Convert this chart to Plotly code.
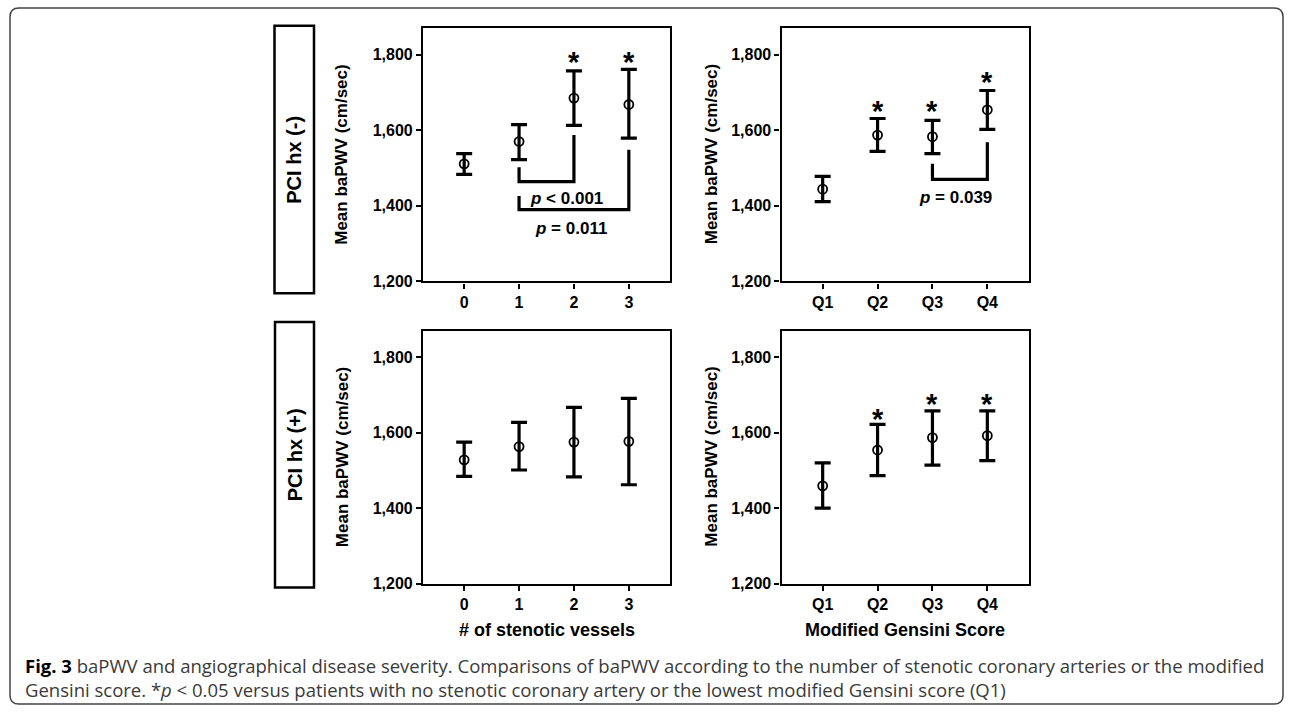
import plotly.graph_objects as go

W, H = 1292, 717

# ---------------- data ----------------
vessel_cats = ["0", "1", "2", "3"]
gensini_cats = ["Q1", "Q2", "Q3", "Q4"]
tick_vals_y = [1200, 1400, 1600, 1800]

# PCI hx (-), # of stenotic vessels
tl_mean = [1511, 1570, 1685, 1668]
tl_upper = [1538, 1615, 1757, 1761]
tl_lower = [1483, 1522, 1613, 1579]
tl_star_idx = [2, 3]
tl_star_y = [1800, 1800]

# PCI hx (-), modified Gensini score
tr_mean = [1444, 1587, 1583, 1654]
tr_upper = [1478, 1631, 1626, 1705]
tr_lower = [1411, 1544, 1538, 1602]
tr_star_idx = [1, 2, 3]
tr_star_y = [1670, 1670, 1745]

# PCI hx (+), # of stenotic vessels
bl_mean = [1528, 1563, 1575, 1577]
bl_upper = [1575, 1627, 1667, 1691]
bl_lower = [1484, 1501, 1483, 1462]

# PCI hx (+), modified Gensini score
br_mean = [1459, 1554, 1587, 1592]
br_upper = [1520, 1622, 1658, 1658]
br_lower = [1400, 1486, 1514, 1526]
br_star_idx = [1, 2, 3]
br_star_y = [1656, 1694, 1694]

# comparison brackets (x in category index, y in cm/sec)
br1_x = [1, 1, 2, 2]
br1_y = [1502, 1464, 1464, 1587]
br1_label = "<b><i>p</i> &lt; 0.001</b>"
br1_pos = (1.87, 1420)
br2_x = [1, 1, 3, 3]
br2_y = [1426, 1390, 1390, 1548]
br2_label = "<b><i>p</i> = 0.011</b>"
br2_pos = (1.95, 1339)
br3_x = [2, 2, 3, 3]
br3_y = [1511, 1470, 1470, 1568]
br3_label = "<b><i>p</i> = 0.039</b>"
br3_pos = (2.42, 1422)

row_labels = ["PCI hx (-)", "PCI hx (+)"]
y_title = "Mean baPWV (cm/sec)"
x_titles = ["# of stenotic vessels", "Modified Gensini Score"]
caption = ("<b>Fig. 3</b> <span style='color:#3a3a3a'>baPWV and angiographical disease severity. "
           "Comparisons of baPWV according to the number of stenotic coronary arteries or the modified</span><br>"
           "<span style='color:#3a3a3a'>Gensini score. *<i>p</i> &lt; 0.05 versus patients with no stenotic "
           "coronary artery or the lowest modified Gensini score (Q1)</span>")

# ---------------- helpers ----------------
def px(x):
    return x / W

def py(y):
    return 1 - y / H

ARIAL = "Liberation Sans, Arial, sans-serif"

# panel boxes in pixels: (left, right, top, bottom, y-title offset)
panels = {
    1: (423, 670, 28.5, 285, 81),
    2: (781.5, 1028.5, 28.5, 285, 70),
    3: (423, 670, 335, 591, 81),
    4: (781.5, 1028.5, 335, 591, 70),
}

fig = go.Figure()

def ax_refs(k):
    return ("x" if k == 1 else f"x{k}", "y" if k == 1 else f"y{k}")

def add_series(k, mean, upper, lower):
    xr, yr = ax_refs(k)
    xs = list(range(len(mean)))
    fig.add_trace(go.Scatter(
        x=xs, y=mean, mode="markers", xaxis=xr, yaxis=yr,
        marker=dict(symbol="circle-open", size=9, color="black", line=dict(width=1.8, color="black")),
        error_y=dict(type="data", symmetric=False,
                     array=[u - m for u, m in zip(upper, mean)],
                     arrayminus=[m - l for m, l in zip(mean, lower)],
                     thickness=3.2, width=8, color="black"),
        showlegend=False, hoverinfo="skip"))

add_series(1, tl_mean, tl_upper, tl_lower)
add_series(2, tr_mean, tr_upper, tr_lower)
add_series(3, bl_mean, bl_upper, bl_lower)
add_series(4, br_mean, br_upper, br_lower)

def add_bracket(k, bx, by):
    xr, yr = ax_refs(k)
    fig.add_trace(go.Scatter(
        x=bx, y=by, mode="lines", xaxis=xr, yaxis=yr,
        line=dict(color="black", width=3.2), showlegend=False, hoverinfo="skip"))

add_bracket(1, br1_x, br1_y)
add_bracket(1, br2_x, br2_y)
add_bracket(2, br3_x, br3_y)

annotations = []

def add_stars(k, idx, ys):
    xr, yr = ax_refs(k)
    for i, yv in zip(idx, ys):
        annotations.append(dict(x=i, y=yv, xref=xr, yref=yr, text="<b>*</b>", showarrow=False,
                                font=dict(family=ARIAL, size=29, color="black"),
                                xanchor="center", yanchor="middle", yshift=-7))

add_stars(1, tl_star_idx, tl_star_y)
add_stars(2, tr_star_idx, tr_star_y)
add_stars(4, br_star_idx, br_star_y)

for k, lab, pos in [(1, br1_label, br1_pos), (1, br2_label, br2_pos), (2, br3_label, br3_pos)]:
    xr, yr = ax_refs(k)
    annotations.append(dict(x=pos[0], y=pos[1], xref=xr, yref=yr, text=lab, showarrow=False,
                            font=dict(family=ARIAL, size=17, color="black"),
                            xanchor="center", yanchor="middle"))

# y-axis titles
for k in panels:
    l, r, t, b, off = panels[k]
    annotations.append(dict(x=px(l - off), y=py((t + b) / 2), xref="paper", yref="paper",
                            text=f"<b>{y_title}</b>", textangle=-90, showarrow=False,
                            font=dict(family=ARIAL, size=17, color="black"),
                            xanchor="center", yanchor="middle"))

# x-axis titles
for k, title in zip([3, 4], x_titles):
    l, r, t, b, off = panels[k]
    annotations.append(dict(x=px((l + r) / 2), y=py(638), xref="paper", yref="paper",
                            text=f"<b>{title}</b>", showarrow=False,
                            font=dict(family=ARIAL, size=18, color="black"),
                            xanchor="center", yanchor="middle"))

# row label boxes
shapes = []
row_boxes = [(274.5, 314, 26, 297), (275, 314, 326, 595)]
for (l, r, t, b), lab in zip(row_boxes, row_labels):
    shapes.append(dict(type="rect", xref="paper", yref="paper",
                       x0=px(l), x1=px(r), y0=py(b), y1=py(t),
                       line=dict(color="black", width=2.5), fillcolor="rgba(0,0,0,0)"))
    annotations.append(dict(x=px((l + r) / 2), y=py((t + b) / 2), xref="paper", yref="paper",
                            text=f"<b>{lab}</b>", textangle=-90, showarrow=False,
                            font=dict(family=ARIAL, size=20, color="black"),
                            xanchor="center", yanchor="middle"))

# caption
CAP = "Open Sans, Lato, sans-serif"
annotations.append(dict(x=px(23), y=py(686), xref="paper", yref="paper", text=caption,
                        showarrow=False, align="left",
                        font=dict(family=CAP, size=18.5, color="black"),
                        xanchor="left", yanchor="middle"))

# outer rounded frame
fl, fr, ft, fb, rad = 10, 1283, 8, 713, 9
path = (f"M {px(fl+rad)},{py(ft)} L {px(fr-rad)},{py(ft)} Q {px(fr)},{py(ft)} {px(fr)},{py(ft+rad)} "
        f"L {px(fr)},{py(fb-rad)} Q {px(fr)},{py(fb)} {px(fr-rad)},{py(fb)} "
        f"L {px(fl+rad)},{py(fb)} Q {px(fl)},{py(fb)} {px(fl)},{py(fb-rad)} "
        f"L {px(fl)},{py(ft+rad)} Q {px(fl)},{py(ft)} {px(fl+rad)},{py(ft)} Z")
shapes.append(dict(type="path", xref="paper", yref="paper", path=path,
                   line=dict(color="#444444", width=1.5)))

layout = dict(width=W, height=H, margin=dict(l=0, r=0, t=0, b=0),
              paper_bgcolor="white", plot_bgcolor="white",
              annotations=annotations, shapes=shapes, showlegend=False)

for k, (l, r, t, b, off) in panels.items():
    xname = "xaxis" if k == 1 else f"xaxis{k}"
    yname = "yaxis" if k == 1 else f"yaxis{k}"
    xr, yr = ax_refs(k)
    cats = vessel_cats if k in (1, 3) else gensini_cats
    common = dict(showline=True, mirror=True, linecolor="black", linewidth=2.2,
                  ticks="outside", ticklen=5, tickwidth=1.5, tickcolor="black",
                  showgrid=False, zeroline=False, fixedrange=True,
                  tickfont=dict(family=ARIAL, size=16, color="black", weight="bold"))
    layout[xname] = dict(domain=[px(l), px(r)], range=[-0.75, 3.75], anchor=yr,
                         tickvals=list(range(len(cats))), ticktext=cats, **common)
    layout[yname] = dict(domain=[py(b), py(t)], range=[1200, 1870], anchor=xr,
                         tickvals=tick_vals_y, tickformat=",", **common)

fig.update_layout(**layout)
fig.write_html("out.html", config={"displayModeBar": False},
               post_script="document.body.style.margin='0px';document.body.style.overflow='hidden';")
